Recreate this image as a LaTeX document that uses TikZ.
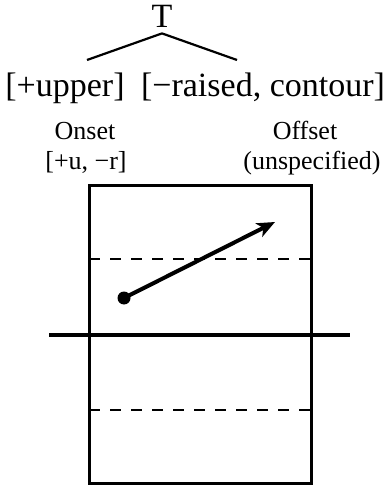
\documentclass[tikz,border=0pt]{standalone}
\usepackage{fontspec}
\setmainfont{Liberation Serif}
\usetikzlibrary{arrows.meta}

\begin{document}
\begin{tikzpicture}[x=0.5pt,y=-0.5pt,
    big/.style={font=\fontsize{17}{20}\selectfont,inner sep=0pt,anchor=base},
    small/.style={font=\fontsize{13}{15}\selectfont,inner sep=0pt,anchor=base},
    branch/.style={line width=1.1pt},
    frame/.style={line width=1.5pt},
    level/.style={line width=1pt,dash pattern=on 5.5pt off 5pt},
    contour/.style={line width=2pt,-{Stealth[length=9pt,width=7.5pt,inset=2.5pt]}}]
    \useasboundingbox (0,0) rectangle (383,485);

    % Tone tree
    \node[big] (tone) at (162,28) {T};
    \node[big] (upper) at (65,97) {[+upper]};
    \node[big] (raised) at (263,97) {[−raised, contour]};
    \draw[branch] (tone.south) ++(0,5) -- ([xshift=11pt,yshift=6.5pt]upper.north);
    \draw[branch] (tone.south) ++(0,5) -- ([xshift=-13pt,yshift=6.5pt]raised.north);

    % Labels over the box
    \node[small] (onset) at (85,140) {Onset};
    \node[small] (onsetval) at (86,170) {[+u, −r]};
    \node[small] (offset) at (305,140) {Offset};
    \node[small] (offsetval) at (312,170) {(unspecified)};

    % Pitch box
    \draw[level] (89,259) -- (311,259);
    \draw[level] (89,410) -- (311,410);
    \draw[frame] (89,186) rectangle (311,483);
    \draw[line width=1.7pt] (49,335) -- (350,335);

    % Contour
    \node[circle,fill,inner sep=0pt,minimum size=6.5pt] (start) at (124,298) {};
    \coordinate (end) at (275,222);
    \draw[contour] (start.center) -- (end);
\end{tikzpicture}
\end{document}
